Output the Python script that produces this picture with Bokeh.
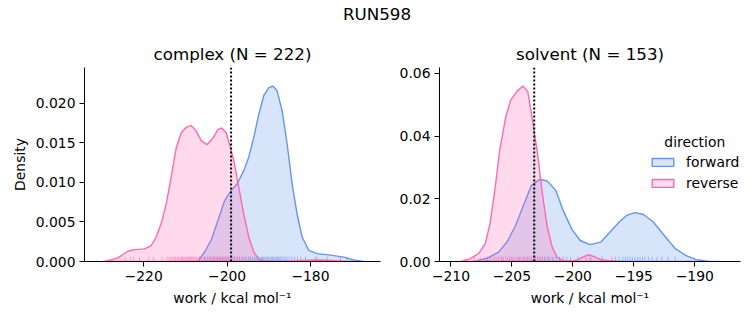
from bokeh.plotting import figure
from bokeh.layouts import column, row
from bokeh.models import (Range1d, FixedTicker, Span, Legend, LegendItem, Label,
                          PrintfTickFormatter, CustomJSTickFormatter)
from bokeh.core.properties import value
from bokeh.embed import file_html
from bokeh.resources import INLINE

FONT = "DejaVu Sans"
BLUE = "#6495ED"
PINK = "#FF69B4"

# ---------------- data ----------------
suptitle = "RUN598"
panel_titles = ["complex (N = 222)", "solvent (N = 153)"]
directions = ["forward", "reverse"]
legend_title = "direction"
x_label = "work / kcal mol\u207b\u00b9"
y_label = "Density"

# complex: KDE curves
complex_forward_x = [-207.0, -205.4, -203.8, -202.2, -200.6, -199.0, -197.6, -196.0, -194.8, -193.6,
                     -192.4, -191.2, -190.0, -189.0, -188.0, -186.8, -185.6, -184.4, -183.2, -182.0,
                     -180.4, -178.4, -175.2, -172.0, -169.6, -167.2]
complex_forward_y = [0.0, 0.0012, 0.0027, 0.0052, 0.0077, 0.0090, 0.0098, 0.0115, 0.0132, 0.0157,
                     0.0186, 0.0210, 0.0220, 0.0222, 0.0216, 0.0191, 0.0149, 0.0098, 0.0060, 0.0031,
                     0.0014, 0.0010, 0.0008, 0.00055, 0.0002, 0.0]
complex_reverse_x = [-229.4, -226.2, -223.8, -222.2, -219.8, -218.2, -217.0, -215.8, -214.6, -213.4,
                     -212.2, -211.0, -209.8, -208.6, -207.4, -206.2, -204.8, -203.4, -202.2, -201.3,
                     -200.2, -199.0, -198.4, -197.2, -196.0, -194.8, -193.6, -192.4, -191.2, -189.0,
                     -185.0, -181.0, -178.5, -176.0, -172.0, -169.6]
complex_reverse_y = [0.0, 0.00046, 0.0013, 0.0015, 0.0016, 0.0020, 0.0031, 0.0048, 0.0073, 0.0107,
                     0.0144, 0.0163, 0.0170, 0.0172, 0.0165, 0.0153, 0.0148, 0.0156, 0.0167, 0.0169,
                     0.0163, 0.0140, 0.0128, 0.0094, 0.0060, 0.0031, 0.0012, 0.0003, 0.0001, 0.00003,
                     0.00003, 0.00015, 0.0002, 0.00015, 0.00003, 0.0]

# solvent: KDE curves
solvent_forward_x = [-208.1, -207.0, -206.1, -205.4, -204.7, -204.0, -203.4, -202.7, -202.1, -201.4,
                     -200.8, -200.1, -199.4, -198.6, -197.7, -197.1, -196.2, -195.6, -194.9, -194.2,
                     -193.4, -192.4, -191.6, -190.7, -189.9, -188.9, -188.0]
solvent_forward_y = [0.0, 0.0011, 0.0030, 0.0062, 0.0115, 0.0184, 0.0243, 0.0262, 0.0257, 0.0227,
                     0.0163, 0.0104, 0.0067, 0.0054, 0.0062, 0.0088, 0.0126, 0.0147, 0.0156, 0.0150,
                     0.0126, 0.0078, 0.0041, 0.0019, 0.0006, 0.0001, 0.0]
solvent_reverse_x = [-209.2, -208.4, -207.7, -207.2, -206.8, -206.4, -206.0, -205.5, -205.1, -204.6,
                     -204.1, -203.7, -203.4, -202.9, -202.5, -202.1, -201.7, -201.3, -200.8, -200.3,
                     -199.7, -199.2, -198.7, -198.2, -197.7, -197.1, -196.3, -195.7]
solvent_reverse_y = [0.0, 0.0009, 0.0027, 0.0056, 0.0120, 0.0227, 0.0355, 0.0462, 0.0515, 0.0542,
                     0.0560, 0.0542, 0.0472, 0.0344, 0.0216, 0.0110, 0.0046, 0.0014, 0.0003, 0.0001,
                     0.0004, 0.0014, 0.0022, 0.0015, 0.0006, 0.0003, 0.0001, 0.0]

# rug samples (estimated from the tick marks)
complex_forward_rug = [-206.6, -205.4, -204.6, -203.9, -203.1, -202.4, -201.6, -201.0, -200.3, -199.7,
                       -199.0, -198.3, -197.6, -197.0, -196.4, -195.9, -195.3, -194.8, -194.4, -193.9,
                       -193.5, -193.1, -192.8, -192.4, -192.1, -191.8, -191.5, -191.2, -190.9, -190.6,
                       -190.3, -190.0, -189.7, -189.4, -189.1, -188.8, -188.5, -188.2, -187.9, -187.6,
                       -187.3, -187.0, -186.6, -186.2, -185.8, -185.4, -184.9, -184.4, -183.8, -183.1,
                       -182.3, -181.2, -178.8, -176.0, -172.8, -171.2]
complex_reverse_rug = [-224.4, -223.2, -222.4, -221.0, -218.8, -217.6, -215.6, -214.4, -213.9, -213.5,
                       -213.0, -212.6, -212.3, -211.9, -211.6, -211.2, -210.9, -210.7, -210.4, -210.1,
                       -209.8, -209.5, -209.3, -209.0, -208.8, -208.5, -208.2, -207.9, -207.7, -207.3,
                       -207.0, -206.6, -206.2, -205.7, -205.2, -204.8, -204.3, -203.9, -203.5, -203.2,
                       -202.9, -202.6, -202.3, -202.0, -201.8, -201.5, -201.2, -200.9, -200.6, -200.3,
                       -199.9, -199.5, -199.1, -198.6, -198.2, -197.7, -197.1, -196.4, -195.6, -194.5,
                       -178.4]
solvent_forward_rug = [-207.0, -205.8, -205.0, -204.4, -204.0, -203.7, -203.4, -203.1, -202.9, -202.7,
                       -202.5, -202.3, -202.1, -201.9, -201.7, -201.4, -201.1, -200.8, -200.5, -200.2,
                       -199.6, -198.6, -197.6, -196.8, -196.5, -196.2, -195.9, -195.7, -195.5, -195.3,
                       -195.1, -194.9, -194.7, -194.5, -194.3, -194.1, -193.8, -193.5, -193.1, -192.7,
                       -192.2, -191.6]
solvent_reverse_rug = [-208.1, -207.6, -207.2, -206.8, -206.5, -206.3, -206.1, -205.9, -205.7, -205.5,
                       -205.35, -205.2, -205.05, -204.9, -204.75, -204.6, -204.45, -204.3, -204.15, -204.0,
                       -203.85, -203.7, -203.55, -203.4, -203.25, -203.1, -202.9, -202.7, -202.5, -202.3,
                       -202.0, -201.6, -198.9, -198.5]

complex_marker = -199.04
solvent_marker = -203.17

complex_xticks = [-220, -200, -180]
complex_yticks = [0.000, 0.005, 0.010, 0.015, 0.020]
solvent_xticks = [-210, -205, -200, -195, -190]
solvent_yticks = [0.00, 0.02, 0.04, 0.06]

complex_xlim = (-234.2, -163.2)
complex_ylim = (0.0, 0.02455)
solvent_xlim = (-210.94, -186.25)
solvent_ylim = (0.0, 0.0619)

TICK_PX = "13.9px"
TITLE_PX = "16.7px"
TOP_H = 64

minus_fmt = CustomJSTickFormatter(code="return tick < 0 ? '\\u2212' + Math.abs(tick) : String(tick);")


def style_axis(ax):
    ax.major_label_text_font = FONT
    ax.major_label_text_font_size = TICK_PX
    ax.major_label_text_color = "black"
    ax.axis_label_text_font = FONT
    ax.axis_label_text_font_size = TICK_PX
    ax.axis_label_text_font_style = "normal"
    ax.axis_label_text_color = "black"
    ax.minor_tick_line_color = None
    ax.major_tick_out = 5
    ax.major_tick_in = 0
    ax.major_label_standoff = 4
    ax.axis_line_color = "black"
    ax.axis_line_width = 1
    ax.major_tick_line_color = "black"


def make_panel(width, bl, br, xlim, ylim, xticks, yticks, yfmt, curves, rugs, marker, ylab):
    p = figure(width=width, height=325 - TOP_H, x_range=Range1d(*xlim), y_range=Range1d(*ylim),
               output_backend="svg", toolbar_location=None, title=None,
               min_border_left=bl, min_border_right=br, min_border_top=67 - TOP_H,
               min_border_bottom=64)
    p.outline_line_color = None
    p.grid.visible = False
    p.xaxis.ticker = FixedTicker(ticks=xticks)
    p.xaxis.formatter = minus_fmt
    p.yaxis.ticker = FixedTicker(ticks=yticks)
    p.yaxis.formatter = PrintfTickFormatter(format=yfmt)
    p.xaxis.axis_label = x_label
    p.xaxis.axis_label_standoff = 6
    if ylab:
        p.yaxis.axis_label = ylab
        p.yaxis.axis_label_standoff = 5
    style_axis(p.xaxis[0])
    style_axis(p.yaxis[0])

    rends = []
    for (cx, cy), c in zip(curves, [BLUE, PINK]):
        rends.append(p.patch(x=cx, y=cy, fill_color=c, fill_alpha=0.25,
                             line_color=c, line_width=1.4))

    rug_h = 0.025 * (ylim[1] - ylim[0])
    for r, c in zip(rugs, [BLUE, PINK]):
        p.segment(x0=r, y0=[0.0] * len(r), x1=r, y1=[rug_h] * len(r),
                  line_color=c, line_width=1, line_alpha=0.55)

    p.add_layout(Span(location=marker, dimension="height", line_color="black",
                      line_dash="2 2", line_width=2))
    return p, rends


p1, _ = make_panel(390, 84, 10, complex_xlim, complex_ylim, complex_xticks, complex_yticks, "%.3f",
                   [(complex_forward_x, complex_forward_y), (complex_reverse_x, complex_reverse_y)],
                   [complex_forward_rug, complex_reverse_rug], complex_marker, y_label)
p2, rends2 = make_panel(363, 49, 13, solvent_xlim, solvent_ylim, solvent_xticks, solvent_yticks, "%.2f",
                        [(solvent_forward_x, solvent_forward_y), (solvent_reverse_x, solvent_reverse_y)],
                        [solvent_forward_rug, solvent_reverse_rug], solvent_marker, None)

legend = Legend(items=[LegendItem(label=directions[0], renderers=[rends2[0]]),
                       LegendItem(label=directions[1], renderers=[rends2[1]])],
                location=(210, 68), orientation="vertical", glyph_width=27, glyph_height=10,
                label_standoff=10, label_height=21, spacing=0, padding=0, margin=0,
                border_line_color=None, background_fill_alpha=0,
                label_text_font=FONT, label_text_font_size=TICK_PX, label_text_color="black")
p2.add_layout(legend)
p2.add_layout(Label(x=-190.0, y=0.038, text=legend_title, text_align="center", text_baseline="middle",
                    text_font=FONT, text_font_size=TICK_PX, text_color="black"))

# titles strip
top = figure(width=753, height=TOP_H, x_range=Range1d(0, 753), y_range=Range1d(TOP_H, 0),
             x_axis_type=None, y_axis_type=None, output_backend="svg", toolbar_location=None,
             title=None, min_border=0)
top.outline_line_color = None
top.text(x=[376.5], y=[13], text=[suptitle], text_font=value(FONT), text_font_size=TITLE_PX,
         text_align="center", text_baseline="middle", text_color="black")
top.text(x=[232, 589.5], y=[53.5, 53.5], text=panel_titles, text_font=value(FONT),
         text_font_size=TITLE_PX, text_align="center", text_baseline="middle", text_color="black")

layout = column(top, row(p1, p2, spacing=0), spacing=0)
open("out.html", "w").write(file_html(layout, INLINE))
